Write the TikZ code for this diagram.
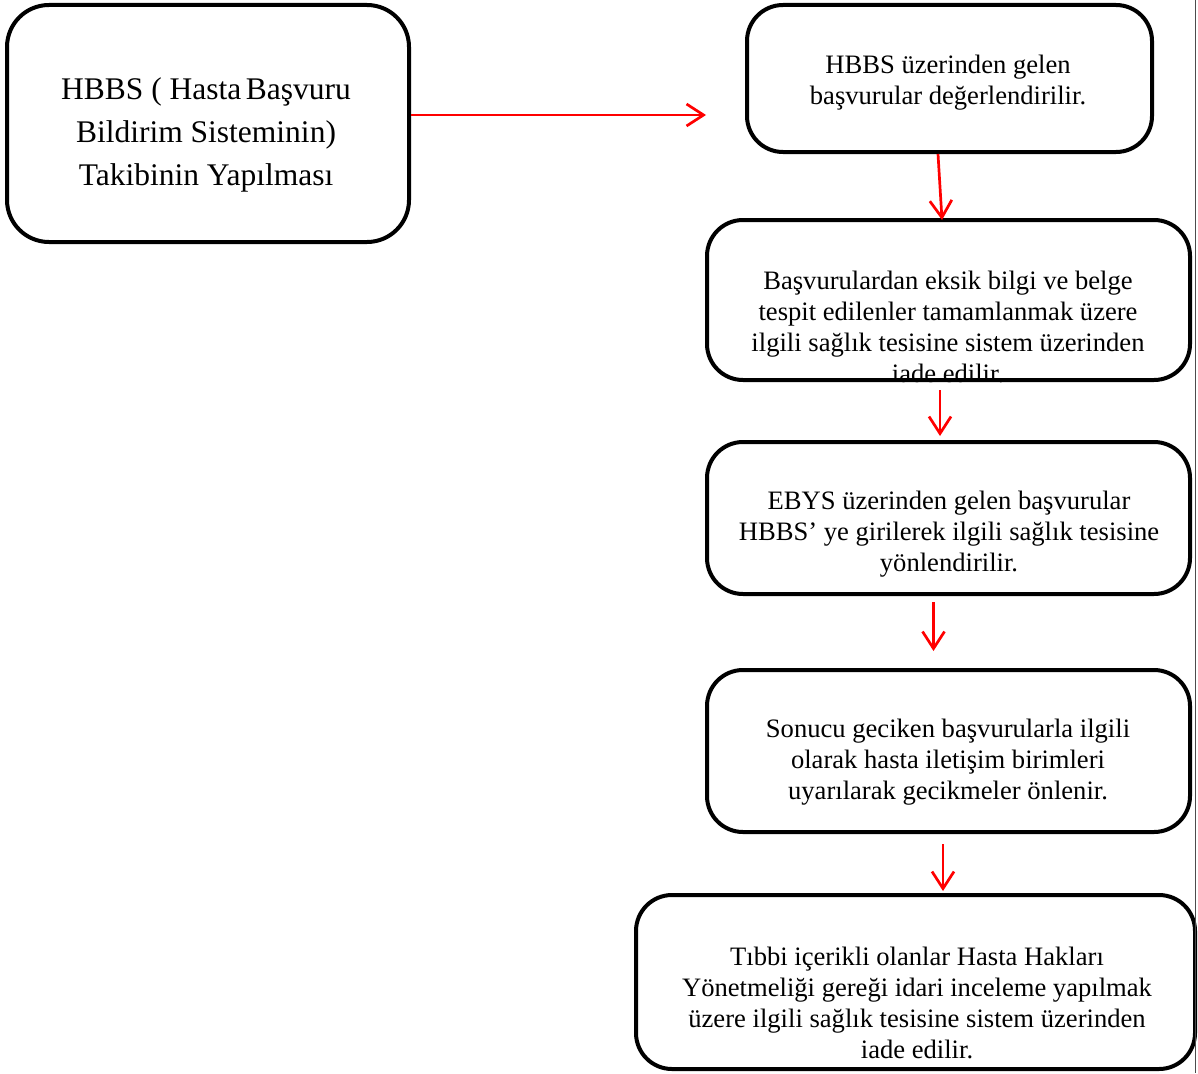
\documentclass[tikz,border=0pt]{standalone}
\usepackage{fontspec}
\setmainfont{Liberation Serif}
\usetikzlibrary{arrows.meta}
\tikzset{
	box/.style={draw, line width=4pt, rounded corners=36pt, inner sep=0pt},
	txt/.style={align=center, font=\fontsize{26.6}{31}\selectfont, inner sep=0pt},
	arr/.style={draw=red, line width=2.7pt, -{Straight Barb[length=17pt,width=22pt]}}
}
\begin{document}
\begin{tikzpicture}[x=1pt,y=-1pt]
			\useasboundingbox (0,0) rectangle (1198,1073);
			\node	(b1) at (208,123.5) [box, rounded corners=42pt, minimum width=402pt, minimum height=237pt] {};
			\node	(b2) at (949.5,78.5) [box, minimum width=405pt, minimum height=147pt] {};
			\node	(b3) at (948.5,300) [box, minimum width=483pt, minimum height=160pt] {};
			\node	(b4) at (948.5,518) [box, minimum width=483pt, minimum height=152pt] {};
			\node	(b5) at (948.5,751) [box, minimum width=483pt, minimum height=162pt] {};
			\node	(b6) at (915.5,982) [box, minimum width=559pt, minimum height=174pt] {};
			
			\node	(t1) at (206,135) [txt, font=\fontsize{31.5}{43}\selectfont] {HBBS ( Hasta\hspace{4.5pt}Başvuru\\ Bildirim Sisteminin)\\ Takibinin Yapılması};
			\node	(t2) at (948,83) [txt] {HBBS üzerinden gelen\\ başvurular değerlendirilir.};
			\begin{scope}
				\clip (b3.north west) rectangle (b3.south east);
				\node	(t3) at (948,327) [txt] {Başvurulardan eksik bilgi ve belge\\ tespit edilenler tamamlanmak üzere\\ ilgili sağlık tesisine sistem üzerinden\\ iade edilir.};
			\end{scope}
			\node	(t4) at (949,534.5) [txt] {EBYS üzerinden gelen başvurular\\ HBBS’ ye girilerek ilgili sağlık tesisine\\ yönlendirilir.};
			\node	(t5) at (948,762.5) [txt] {Sonucu geciken başvurularla ilgili\\ olarak hasta iletişim birimleri\\ uyarılarak gecikmeler önlenir.};
			\node	(t6) at (917,1003) [txt] {Tıbbi içerikli olanlar Hasta Hakları\\ Yönetmeliği gereği idari inceleme yapılmak\\ üzere ilgili sağlık tesisine sistem üzerinden\\ iade edilir.};
			
			\coordinate (a1) at (706,115);
			\draw[arr] (b1.east |- a1) -- (a1);
			\draw[arr] ([xshift=-11.5pt]b2.south) -- ([xshift=-6.5pt,yshift=-2pt]b3.north);
			\draw[arr, shorten <=8pt, shorten >=4pt] ([xshift=-8.5pt]b3.south) -- ([xshift=-8.5pt]b3.south |- b4.north);
			\draw[arr, shorten <=6pt, shorten >=17pt] ([xshift=-15pt]b4.south) -- ([xshift=-15pt]b4.south |- b5.north);
			\draw[arr, shorten <=10pt, shorten >=2pt] ([xshift=-5.5pt]b5.south) -- ([xshift=-5.5pt]b5.south |- b6.north);
			
			\draw[line width=1pt, black!70] (1195,0) -- (1195,1073);
		\end{tikzpicture}
\end{document}
